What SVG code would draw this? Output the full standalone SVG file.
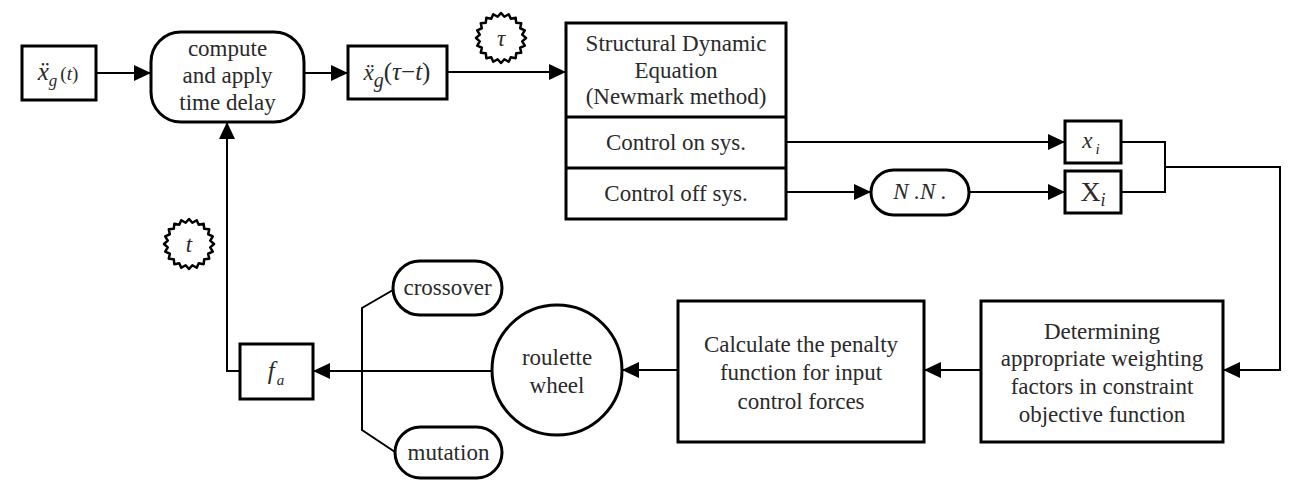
<svg xmlns="http://www.w3.org/2000/svg" width="1289" height="480" viewBox="0 0 1289 480">
<style>
.box{fill:#fff;stroke:#000;stroke-width:3}
.ln{fill:none;stroke:#000;stroke-width:2}
.arr{marker-end:url(#ah)}
text{font-family:"Liberation Serif","DejaVu Serif",serif;fill:#2a2a2a;font-size:23px;text-anchor:middle}
.it{font-style:italic}
.star{fill:#fff;stroke:#000;stroke-width:2.5;stroke-linejoin:round}
</style>
<defs>
<marker id="ah" markerUnits="userSpaceOnUse" markerWidth="17" markerHeight="16" refX="17" refY="8" orient="auto">
<path d="M0,0 L17,8 L0,16 z" fill="#000"/>
</marker>
<polygon id="starshape" points="25,0 21.24,3.36 23.78,7.73 19.16,9.76 20.23,14.70 15.20,15.20 14.70,20.23 9.76,19.16 7.73,23.78 3.36,21.24 0,25 -3.36,21.24 -7.73,23.78 -9.76,19.16 -14.70,20.23 -15.20,15.20 -20.23,14.70 -19.16,9.76 -23.78,7.73 -21.24,3.36 -25,0 -21.24,-3.36 -23.78,-7.73 -19.16,-9.76 -20.23,-14.70 -15.20,-15.20 -14.70,-20.23 -9.76,-19.16 -7.73,-23.78 -3.36,-21.24 0,-25 3.36,-21.24 7.73,-23.78 9.76,-19.16 14.70,-20.23 15.20,-15.20 20.23,-14.70 19.16,-9.76 23.78,-7.73 21.24,-3.36"/>
</defs>

<g id="connectors">
<line class="ln arr" x1="96" y1="73" x2="151" y2="73"/>
<line class="ln arr" x1="304" y1="73" x2="348" y2="73"/>
<line class="ln arr" x1="447" y1="72" x2="566" y2="72"/>
<line class="ln arr" x1="786" y1="142" x2="1065" y2="142"/>
<line class="ln arr" x1="786" y1="192" x2="871" y2="192"/>
<line class="ln arr" x1="969" y1="192" x2="1065" y2="192"/>
<polyline class="ln" points="1121,142 1165,142 1165,192 1121,192"/>
<polyline class="ln arr" points="1165,167 1280,167 1280,370 1223,370"/>
<line class="ln arr" x1="981" y1="370" x2="924" y2="370"/>
<line class="ln arr" x1="678" y1="370" x2="622" y2="370"/>
<line class="ln arr" x1="492" y1="371" x2="313" y2="371"/>
<polyline class="ln arr" points="240,371 227,371 227,122"/>
<polyline class="ln" points="393,290 362,308 362,430 395,452"/>
</g>

<g id="xg_t">
<rect class="box" x="22" y="46" width="74" height="54"/>
<text x="58" y="80"><tspan class="it" font-size="25">ẍ</tspan><tspan class="it" font-size="17" dy="6">g</tspan><tspan font-size="19" dy="-6" dx="3">(</tspan><tspan class="it" font-size="19">t</tspan><tspan font-size="19">)</tspan></text>
</g>

<g id="compute">
<rect class="box" x="151" y="32" width="153" height="90" rx="30" ry="30"/>
<text x="227.5" y="56">compute</text>
<text x="227.5" y="83">and apply</text>
<text x="227.5" y="110">time delay</text>
</g>

<g id="xg_tau">
<rect class="box" x="348" y="46" width="99" height="53"/>
<text x="397" y="80"><tspan class="it" font-size="23">ẍ</tspan><tspan class="it" font-size="20" dy="7">g</tspan><tspan font-size="25" dy="-7">(</tspan><tspan class="it" font-size="25">τ</tspan><tspan font-size="25">−</tspan><tspan class="it" font-size="25">t</tspan><tspan font-size="25">)</tspan></text>
</g>

<g id="tau">
<use href="#starshape" class="star" transform="translate(501,38)"/>
<text x="501" y="46" class="it" font-size="25">τ</text>
</g>

<g id="structural">
<rect class="box" x="566" y="23" width="220" height="196"/>
<line x1="566" y1="117" x2="786" y2="117" stroke="#000" stroke-width="3"/>
<line x1="566" y1="168" x2="786" y2="168" stroke="#000" stroke-width="3"/>
<text x="676" y="51">Structural Dynamic</text>
<text x="676" y="78">Equation</text>
<text x="676" y="104">(Newmark method)</text>
<text x="676" y="150">Control on sys.</text>
<text x="676" y="201">Control off sys.</text>
</g>

<g id="nn">
<rect class="box" x="871" y="170" width="98" height="45" rx="22.5" ry="22.5"/>
<text x="920" y="199" class="it" font-size="21" fill="#555">N .N .</text>
</g>

<g id="xi">
<rect class="box" x="1065" y="121" width="56" height="42"/>
<text x="1091" y="148"><tspan class="it" font-size="23">x</tspan><tspan class="it" font-size="15" dy="6" dx="3">i</tspan></text>
</g>

<g id="Xi">
<rect class="box" x="1065" y="171" width="56" height="42"/>
<text x="1093" y="201"><tspan font-size="28">X</tspan><tspan class="it" font-size="18" dy="5">i</tspan></text>
</g>

<g id="determining">
<rect class="box" x="981" y="301" width="242" height="141"/>
<text x="1102" y="339">Determining</text>
<text x="1102" y="366">appropriate weighting</text>
<text x="1102" y="394">factors in constraint</text>
<text x="1102" y="422">objective function</text>
</g>

<g id="calculate">
<rect class="box" x="678" y="301" width="246" height="141"/>
<text x="801" y="352">Calculate the penalty</text>
<text x="801" y="380">function for input</text>
<text x="801" y="409">control forces</text>
</g>

<g id="roulette">
<circle class="box" cx="557" cy="370" r="65"/>
<text x="557" y="365">roulette</text>
<text x="557" y="393">wheel</text>
</g>

<g id="fa">
<rect class="box" x="240" y="344" width="73" height="55"/>
<text x="276" y="379"><tspan class="it" font-size="25">f</tspan><tspan class="it" font-size="15" dy="6" dx="2">a</tspan></text>
</g>

<g id="t_star">
<use href="#starshape" class="star" transform="translate(189,244)"/>
<text x="189" y="252" class="it" font-size="25">t</text>
</g>

<g id="crossover">
<rect class="box" x="393" y="261" width="109" height="54" rx="27" ry="27"/>
<text x="447.5" y="295">crossover</text>
</g>

<g id="mutation">
<rect class="box" x="395" y="427" width="107" height="51" rx="25.5" ry="25.5"/>
<text x="448.5" y="460">mutation</text>
</g>
</svg>
